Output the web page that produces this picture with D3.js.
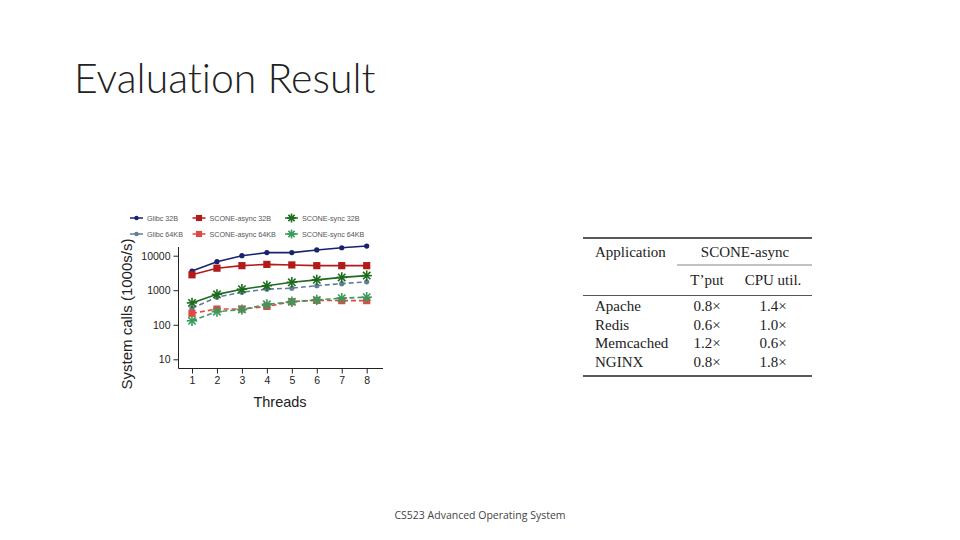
<!DOCTYPE html>
<html><head><meta charset="utf-8">
<script src="https://cdn.jsdelivr.net/npm/d3@7"></script>
<style>body{margin:0;background:#fff;}svg{display:block;}</style>
</head><body><svg id="c" width="960" height="540"></svg>
<script>
const threads = [1,2,3,4,5,6,7,8];
const glibc32 = [3600,6700,10000,12300,12300,14700,17000,19000];
const asyncs32 = [2800,4350,5150,5600,5400,5150,5150,5150];
const sync32 = [430,760,1070,1350,1700,2000,2350,2650];
const glibc64 = [300,630,880,1070,1150,1350,1550,1750];
const async64 = [215,285,285,340,465,510,500,500];
const sync64 = [130,240,275,390,465,525,590,630];
const yTicks = [10,100,1000,10000];
const seriesNames = ["Glibc 32B","SCONE-async 32B","SCONE-sync 32B","Glibc 64KB","SCONE-async 64KB","SCONE-sync 64KB"];
const seriesColors = ["#18226e","#b31b1b","#1d6b1d","#5f7d96","#e04a45","#3a9a5c"];
const seriesShapes = ["circle","square","star","circle","square","star"];
const seriesDashed = [false,false,false,true,true,true];
const seriesValues = [glibc32,asyncs32,sync32,glibc64,async64,sync64];

const tableCols = ["T\u2019put","CPU util."];
const apps = ["Apache","Redis","Memcached","NGINX"];
const tput = ["0.8\u00d7","0.6\u00d7","1.2\u00d7","0.8\u00d7"];
const cpu = ["1.4\u00d7","1.0\u00d7","0.6\u00d7","1.8\u00d7"];

const svg = d3.select("#c");
svg.append("text").attr("x",74).attr("y",93).attr("font-family","Lato, 'Open Sans', sans-serif")
  .attr("font-weight",300).attr("font-size",41).attr("fill","#222")
  .style("font-variant-ligatures","none").text("Evaluation Result");
svg.append("text").attr("x",480).attr("y",519).attr("text-anchor","middle")
  .attr("font-family","'Open Sans', sans-serif").attr("font-size",10.5).attr("fill","#444")
  .text("CS523 Advanced Operating System");

// chart
const x = d3.scaleLinear().domain([1,8]).range([192,366.7]);
const y = d3.scaleLog().domain([10,10000]).range([359.3,255.7]);
const axisLeftX = 178.5, axisBottomY = 368.5;
const g = svg.append("g");
const fontA = "'Liberation Sans', Arial, sans-serif";

const ya = g.append("g").attr("transform",`translate(${axisLeftX},0)`)
  .call(d3.axisLeft(y).tickValues(yTicks).tickFormat(d3.format("d")).tickSize(5).tickSizeOuter(0));
ya.select(".domain").remove();
ya.append("line").attr("x1",0).attr("x2",0).attr("y1",247).attr("y2",axisBottomY).attr("stroke","#222");
const xa = g.append("g").attr("transform",`translate(0,${axisBottomY})`)
  .call(d3.axisBottom(x).tickValues(threads).tickFormat(d3.format("d")).tickSize(5).tickSizeOuter(0));
xa.select(".domain").remove();
xa.append("line").attr("x1",axisLeftX).attr("x2",383).attr("y1",0).attr("y2",0).attr("stroke","#222");
[ya,xa].forEach(a=>{a.selectAll("text").attr("font-family",fontA).attr("font-size",10.5).attr("fill","#222");
  a.selectAll(".tick line").attr("stroke","#222");});

g.append("text").attr("transform","translate(132,314) rotate(-90)").attr("text-anchor","middle")
  .attr("font-family",fontA).attr("font-size",15).attr("fill","#222").text("System calls (1000s/s)");
g.append("text").attr("x",280).attr("y",407).attr("text-anchor","middle")
  .attr("font-family",fontA).attr("font-size",14.5).attr("fill","#222").text("Threads");

function drawMarker(sel, shape, color, cx, cy, s){
  if(shape==="circle") sel.append("circle").attr("cx",cx).attr("cy",cy).attr("r",2.6*s).attr("fill",color);
  else if(shape==="square") sel.append("rect").attr("x",cx-3.6*s).attr("y",cy-3.6*s).attr("width",7.2*s).attr("height",7.2*s).attr("fill",color);
  else {
    const r=5.2*s;
    for(let k=0;k<4;k++){const a=k*Math.PI/4;
      sel.append("line").attr("x1",cx-r*Math.cos(a)).attr("y1",cy-r*Math.sin(a))
        .attr("x2",cx+r*Math.cos(a)).attr("y2",cy+r*Math.sin(a)).attr("stroke",color).attr("stroke-width",1.6);}
  }
}
const line = d3.line().x((d,i)=>x(threads[i])).y(d=>y(d));
[3,4,5,0,1,2].forEach(si=>{
  const vals=seriesValues[si];
  g.append("path").attr("d",line(vals)).attr("fill","none").attr("stroke",seriesColors[si])
    .attr("stroke-width",1.6).attr("stroke-dasharray",seriesDashed[si]?"5,3":null);
  vals.forEach((v,i)=>drawMarker(g,seriesShapes[si],seriesColors[si],x(threads[i]),y(v),1));
});

// legend
const legCols=[130,192.5,285], legRows=[218,234];
seriesNames.forEach((n,i)=>{
  const cx=legCols[i%3], cy=legRows[Math.floor(i/3)];
  const lg=g.append("g");
  lg.append("line").attr("x1",cx).attr("x2",cx+13).attr("y1",cy).attr("y2",cy).attr("stroke",seriesColors[i]).attr("stroke-width",1.5);
  drawMarker(lg,seriesShapes[i],seriesColors[i],cx+6.5,cy,0.85);
  lg.append("text").attr("x",cx+17).attr("y",cy+2.5).attr("font-family",fontA).attr("font-size",7.2)
    .attr("fill","#555").text(n);
});

// table
const t = svg.append("g");
const fontT = "'Liberation Serif', 'Times New Roman', serif";
const L=583, R=812;
t.append("line").attr("x1",L).attr("x2",R).attr("y1",238).attr("y2",238).attr("stroke","#222").attr("stroke-width",1.6);
t.append("line").attr("x1",677).attr("x2",R).attr("y1",265).attr("y2",265).attr("stroke","#666").attr("stroke-width",0.8);
t.append("line").attr("x1",L).attr("x2",R).attr("y1",295.5).attr("y2",295.5).attr("stroke","#444").attr("stroke-width",0.9);
t.append("line").attr("x1",L).attr("x2",R).attr("y1",376).attr("y2",376).attr("stroke","#222").attr("stroke-width",1.6);
const tt=(xx,yy,s,anchor)=>t.append("text").attr("x",xx).attr("y",yy).attr("font-family",fontT).attr("font-size",15)
  .attr("fill","#222").attr("text-anchor",anchor||"start").text(s);
tt(595,257,"Application");
tt(745,257,"SCONE-async","middle");
tt(707,285,tableCols[0],"middle");
tt(773,285,tableCols[1],"middle");
apps.forEach((a,i)=>{
  const yy=311+i*18.5;
  tt(595,yy,a); tt(707,yy,tput[i],"middle"); tt(773,yy,cpu[i],"middle");
});
</script></body></html>
